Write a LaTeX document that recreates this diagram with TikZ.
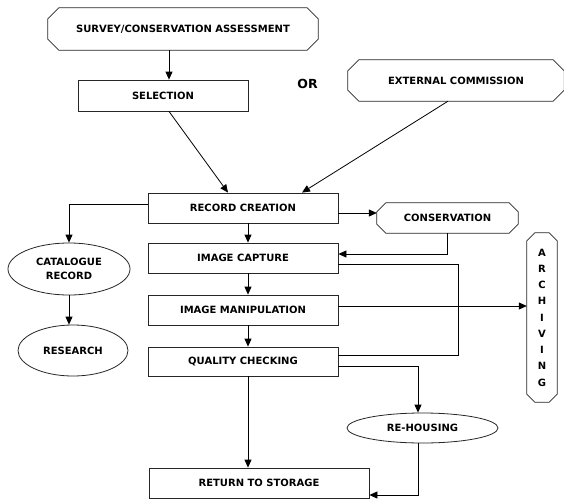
\documentclass[tikz,border=0pt]{standalone}
\usepackage{fontspec}
\setmainfont{DejaVu Sans}
\usetikzlibrary{arrows.meta, positioning, shapes.geometric}

% octagon outline round a named node
\newcommand{\chamferbox}[2]{%
  \draw[line width=0.8pt,draw=black!85]
    ([xshift=#2]#1.north west) -- ([xshift=-#2]#1.north east) -- ([yshift=-#2]#1.north east)
    -- ([yshift=#2]#1.south east) -- ([xshift=-#2]#1.south east) -- ([xshift=#2]#1.south west)
    -- ([yshift=#2]#1.south west) -- ([yshift=-#2]#1.north west) -- cycle;}

\begin{document}
\begin{tikzpicture}[x=1pt,y=-1pt,
            font=\fontsize{10}{12}\selectfont\bfseries,
            process/.style={draw=black!85,line width=0.8pt,minimum height=30pt},
            terminal/.style={rectangle,inner sep=0pt},
            outcome/.style={draw=black!85,line width=0.8pt,ellipse,inner sep=0pt},
            arr/.style={line width=0.8pt,-{Triangle[length=8pt,width=7pt]}},
            link/.style={line width=0.8pt}]

            \useasboundingbox (0,0) rectangle (564,503);

            % Start of the workflow
            \node[terminal,minimum width=270pt,minimum height=42pt] (survey) at (183,29) {SURVEY/CONSERVATION ASSESSMENT};
            \chamferbox{survey}{11pt}
            \node[process,minimum width=170pt,minimum height=31pt] (selection) at (163,95.5) {SELECTION};
            \node[font=\fontsize{12.5}{14}\selectfont\bfseries] (or) at (307.5,84) {OR};
            \node[terminal,minimum width=216pt,minimum height=41pt] (external) at (456,80.5) {EXTERNAL COMMISSION};
            \chamferbox{external}{11pt}

            % Main column
            \node[process,minimum width=190pt] (record) at (243,208) {RECORD CREATION};
            \node[process,minimum width=190pt] (capture) at (243,258) {IMAGE CAPTURE};
            \node[process,minimum width=190pt] (manip) at (243,310) {IMAGE MANIPULATION};
            \node[process,minimum width=190pt,minimum height=29pt] (quality) at (243,361.5) {QUALITY CHECKING};
            \node[process,minimum width=220pt] (storage) at (259,483) {RETURN TO STORAGE};

            % Side branches
            \node[outcome,minimum width=122pt,minimum height=52pt,align=center,
                font=\fontsize{10}{14}\selectfont\bfseries] (catalogue) at (69,269) {CATALOGUE\\RECORD};
            \node[outcome,minimum width=110pt,minimum height=51pt] (research) at (73,350.5) {RESEARCH};
            \node[terminal,minimum width=141pt,minimum height=30pt] (conservation) at (447.5,218) {CONSERVATION};
            \chamferbox{conservation}{9pt}
            \node[outcome,minimum width=151pt,minimum height=30pt] (rehousing) at (422.5,428) {RE-HOUSING};
            \node[terminal,minimum width=30pt,minimum height=169pt,align=center,
                font=\fontsize{10}{16.25}\selectfont\bfseries] (archiving) at (542,317.5) {A\\R\\C\\H\\I\\V\\I\\N\\G};
            \chamferbox{archiving}{8pt}

            % Connectors
            \draw[arr] ([xshift=6pt]selection.north |- survey.south) -- ([xshift=6pt]selection.north);
            \draw[arr] ([xshift=6pt]selection.south) -- ([xshift=-15pt]record.north);
            \draw[arr] ([xshift=-8pt]external.south) -- ([xshift=59pt]record.north);
            \draw[arr] ([yshift=4pt]record.west) -| (catalogue.north);
            \draw[arr] (catalogue.south) -- (catalogue.south |- research.north);
            \draw[arr] ([yshift=-5pt]record.east) -- ([yshift=-5pt]record.east -| conservation.west);
            \draw[arr] (conservation.south) |- ([yshift=4pt]capture.east);
            \coordinate (loop) at (458,300);
            \draw[link] ([yshift=-6pt]capture.east) -| ([yshift=6.5pt]quality.east -| loop) -- ([yshift=6.5pt]quality.east);
            \draw[arr] ([yshift=4pt]manip.east) -- ([yshift=4pt]manip.east -| archiving.west);
            \draw[arr] ([xshift=5pt]record.south) -- ([xshift=5pt]capture.north);
            \draw[arr] ([xshift=5pt]capture.south) -- ([xshift=5pt]manip.north);
            \draw[arr] ([xshift=5pt]manip.south) -- ([xshift=5pt]quality.north);
            \draw[arr] ([xshift=5pt]quality.south) -- ([xshift=5pt]quality.south |- storage.north);
            \draw[arr] ([yshift=-4.5pt]quality.east) -| ([xshift=-4.5pt]rehousing.north);
            \draw[arr] ([xshift=-4.5pt]rehousing.south) |- ([yshift=-12pt]storage.east);
\end{tikzpicture}
\end{document}
